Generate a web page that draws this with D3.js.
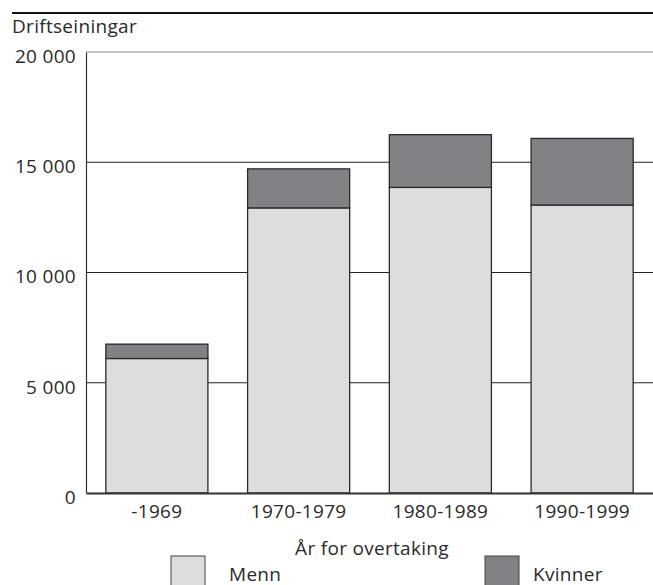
<!DOCTYPE html>
<html>
<head>
<meta charset="utf-8">
<script src="https://cdn.jsdelivr.net/npm/d3@7"></script>
<style>
  body { margin: 0; background: #fff; }
  text { font-family: "Open Sans", sans-serif; fill: #2a2a2a; letter-spacing: 0.3px; }
</style>
</head>
<body>
<svg id="chart" width="653" height="585"></svg>
<script>
// periods (x categories)
var periods = ["-1969", "1970-1979", "1980-1989", "1990-1999"];
// driftseiningar by gender
var menn    = [6100, 12930, 13860, 13060];
var kvinner = [650, 1770, 2390, 3020];
var yTicks  = [0, 5000, 10000, 15000, 20000];

var colours = {
  Menn: "#dcdddf",   // light grey
  Kvinner: "#808285" // dark grey
};

var svg = d3.select("#chart");
var plotLeft = 86, plotRight = 653, plotTop = 52, plotBottom = 493;

var x = d3.scaleBand()
  .domain(periods)
  .range([plotLeft, plotRight])
  .paddingInner(0.28)
  .paddingOuter(0.14);

var y = d3.scaleLinear().domain([0, 20000]).range([plotBottom, plotTop]);

function fmt(v) {
  return d3.format(",")(v).replace(/,/g, " ");
}

// top rule
svg.append("line")
  .attr("x1", 12).attr("x2", 653)
  .attr("y1", 13).attr("y2", 13)
  .attr("stroke", "#111").attr("stroke-width", 2);

svg.append("text")
  .attr("x", 12).attr("y", 33)
  .style("font-size", "19px")
  .text("Driftseiningar");

// gridlines
svg.append("g").selectAll("line")
  .data(yTicks.filter(function(d) { return d > 0 && d < 20000; }))
  .enter().append("line")
  .attr("x1", plotLeft).attr("x2", plotRight)
  .attr("y1", function(d) { return y(d); })
  .attr("y2", function(d) { return y(d); })
  .attr("stroke", "#222").attr("stroke-width", 1);

// top frame
svg.append("line")
  .attr("x1", plotLeft).attr("x2", plotRight)
  .attr("y1", y(20000)).attr("y2", y(20000))
  .attr("stroke", "#888").attr("stroke-width", 1.2);

// y axis
var yAxis = d3.axisLeft(y)
  .tickValues(yTicks)
  .tickSize(0)
  .tickPadding(10)
  .tickFormat(fmt);

var gy = svg.append("g")
  .attr("transform", "translate(" + plotLeft + ",0)")
  .call(yAxis);
gy.select(".domain").attr("stroke", "#333").attr("stroke-width", 1.2);
gy.selectAll("text")
  .style("font-size", "19px")
  .attr("fill", "#2a2a2a")
  .attr("dy", "0.55em");

// stacked bars
var rows = periods.map(function(p, i) {
  return { period: p, Menn: menn[i], Kvinner: kvinner[i] };
});
var stack = d3.stack().keys(["Menn", "Kvinner"])(rows);

svg.append("g").selectAll("g")
  .data(stack)
  .enter().append("g")
  .attr("fill", function(d) { return colours[d.key]; })
  .selectAll("rect")
  .data(function(d) { return d; })
  .enter().append("rect")
  .attr("x", function(d) { return x(d.data.period); })
  .attr("width", x.bandwidth())
  .attr("y", function(d) { return y(d[1]); })
  .attr("height", function(d) { return y(d[0]) - y(d[1]); })
  .attr("stroke", "#2a2a2a")
  .attr("stroke-width", 1.3);

// x axis
var xAxis = d3.axisBottom(x).tickSize(0).tickPadding(12);
var gx = svg.append("g")
  .attr("transform", "translate(0," + plotBottom + ")")
  .call(xAxis);
gx.select(".domain").attr("stroke", "#333").attr("stroke-width", 2.2);
gx.selectAll("text")
  .style("font-size", "19px")
  .attr("fill", "#2a2a2a");

svg.append("text")
  .attr("x", 372).attr("y", 555)
  .attr("text-anchor", "middle")
  .style("font-size", "19px")
  .text("År for overtaking");

// legend
var legend = [
  { key: "Menn", x: 171, tx: 229 },
  { key: "Kvinner", x: 485, tx: 533 }
];
var lg = svg.append("g").selectAll("g")
  .data(legend)
  .enter().append("g");
lg.append("rect")
  .attr("x", function(d) { return d.x; })
  .attr("y", 556)
  .attr("width", 34).attr("height", 34)
  .attr("fill", function(d) { return colours[d.key]; })
  .attr("stroke", "#444").attr("stroke-width", 1);
lg.append("text")
  .attr("x", function(d) { return d.tx; })
  .attr("y", 581)
  .style("font-size", "19px")
  .text(function(d) { return d.key; });
</script>
</body>
</html>
